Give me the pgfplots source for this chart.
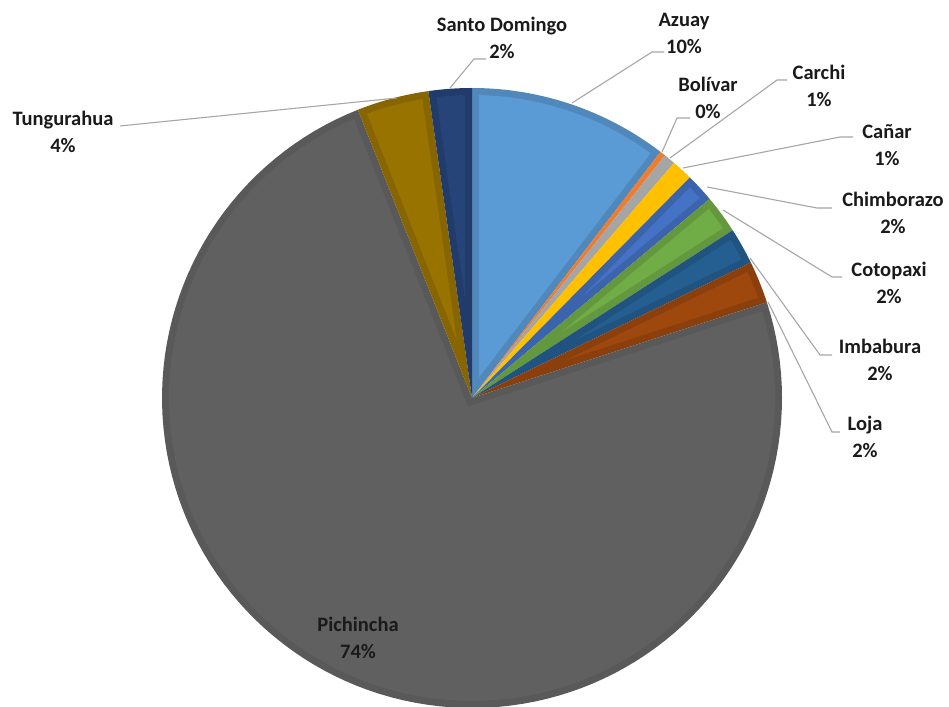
\documentclass[border=0pt]{standalone}
\usepackage{pgfplots}
\pgfplotsset{compat=1.18}
\usepackage{fontspec}
\setmainfont{Carlito}
\definecolor{cAzuay}{HTML}{5B9BD5}
\definecolor{cBolivar}{HTML}{ED7D31}
\definecolor{cCarchi}{HTML}{A5A5A5}
\definecolor{cCanar}{HTML}{FFC000}
\definecolor{cChimborazo}{HTML}{4472C4}
\definecolor{cCotopaxi}{HTML}{70AD47}
\definecolor{cImbabura}{HTML}{255E91}
\definecolor{cLoja}{HTML}{9E480E}
\definecolor{cPichincha}{HTML}{606060}
\definecolor{cTungurahua}{HTML}{997300}
\definecolor{cSanto}{HTML}{264478}
\definecolor{leader}{HTML}{A6A6A6}
\definecolor{txt}{HTML}{1A1A1A}
\def\pieR{310}
\def\pieRi{303}
\def\bw{7}
\def\dlt{1.3236}
\gdef\cum{0}
% #1 = share in percent, #2 = colour, #3 = band shade (percent of colour)
\newcommand\slice[3]{%
  \pgfmathsetmacro\aS{90-3.6*\cum}%
  \pgfmathsetmacro\aE{90-3.6*(\cum+#1)}%
  \pgfmathsetmacro\thet{3.6*#1}%
  \pgfmathtruncatemacro\isbig{\thet>5}%
  \ifnum\isbig=1
    \pgfmathsetmacro\iS{\aS-\dlt}%
    \pgfmathsetmacro\iE{\aE+\dlt}%
    \pgfmathsetmacro\vd{\bw/sin(\thet/2)}%
    \pgfmathsetmacro\vx{\vd*cos((\aS+\aE)/2)}%
    \pgfmathsetmacro\vy{\vd*sin((\aS+\aE)/2)}%
    \edef\tmp{\noexpand\addplot[draw=none, fill=#2!#3!black, domain=\aE:\aS, samples=120, variable=\noexpand\t] ({\pieR*cos(\noexpand\t)},{\pieR*sin(\noexpand\t)}) -- (axis cs:0,0) -- cycle;
    \noexpand\addplot[draw=none, fill=#2, domain=\iE:\iS, samples=120, variable=\noexpand\t] ({\pieRi*cos(\noexpand\t)},{\pieRi*sin(\noexpand\t)}) -- (axis cs:\vx,\vy) -- cycle;}%
  \else
    \edef\tmp{\noexpand\addplot[draw=none, fill=#2, domain=\aE:\aS, samples=20, variable=\noexpand\t] ({\pieR*cos(\noexpand\t)},{\pieR*sin(\noexpand\t)}) -- (axis cs:0,0) -- cycle;}%
  \fi
  \tmp
  \pgfmathsetmacro\newcum{\cum+#1}\global\let\cum\newcum
}
\newcommand\lab[3]{\node[align=center, text=txt, font=\fontsize{20.5}{27}\selectfont\bfseries] at (axis cs:#1-472,398-#2) {#3};}
\begin{document}
\begin{tikzpicture}
\begin{axis}[
  scale only axis, width=949pt, height=706pt,
  xmin=-472, xmax=477, ymin=-308, ymax=398,
  hide axis, clip=false]
% shares of each province (percent), clockwise from 12 o'clock
\slice{10.4}{cAzuay}{88}
\slice{0.3}{cBolivar}{88}
\slice{0.6}{cCarchi}{88}
\slice{1.1}{cCanar}{88}
\slice{1.5}{cChimborazo}{88}
\slice{2.0}{cCotopaxi}{88}
\slice{1.9}{cImbabura}{88}
\slice{2.2}{cLoja}{88}
\slice{74.0}{cPichincha}{93}
\slice{3.75}{cTungurahua}{88}
\slice{2.25}{cSanto}{88}
% leader lines
\draw[leader, line width=1.1pt] (axis cs:-22,310) -- (axis cs:2,339) -- (axis cs:14,339);
\draw[leader, line width=1.1pt] (axis cs:100,295) -- (axis cs:180,346) -- (axis cs:192,346);
\draw[leader, line width=1.1pt] (axis cs:190,246) -- (axis cs:205,280) -- (axis cs:218,280);
\draw[leader, line width=1.1pt] (axis cs:198,240) -- (axis cs:305,318) -- (axis cs:315,318);
\draw[leader, line width=1.1pt] (axis cs:211,230) -- (axis cs:368,261) -- (axis cs:381,261);
\draw[leader, line width=1.1pt] (axis cs:235,211) -- (axis cs:345,190) -- (axis cs:360,190);
\draw[leader, line width=1.1pt] (axis cs:251,188) -- (axis cs:360,121) -- (axis cs:370,121);
\draw[leader, line width=1.1pt] (axis cs:278,140) -- (axis cs:348,43) -- (axis cs:360,43);
\draw[leader, line width=1.1pt] (axis cs:296,96) -- (axis cs:360,-34) -- (axis cs:368,-34);
\draw[leader, line width=1.1pt] (axis cs:-75,300) -- (axis cs:-352,272);
% labels
\lab{502}{38}{Santo Domingo\\2\%}
\lab{684}{33}{Azuay\\10\%}
\lab{708}{98}{Bolívar\\0\%}
\lab{819}{86}{Carchi\\1\%}
\lab{887}{145}{Cañar\\1\%}
\lab{893}{213}{Chimborazo\\2\%}
\lab{889}{283}{Cotopaxi\\2\%}
\lab{880}{360}{Imbabura\\2\%}
\lab{865}{437}{Loja\\2\%}
\lab{63}{132}{Tungurahua\\4\%}
\lab{358}{638}{Pichincha\\74\%}
\end{axis}
\pgfresetboundingbox
\useasboundingbox (current axis.south west) rectangle (current axis.north east);
\end{tikzpicture}
\end{document}
